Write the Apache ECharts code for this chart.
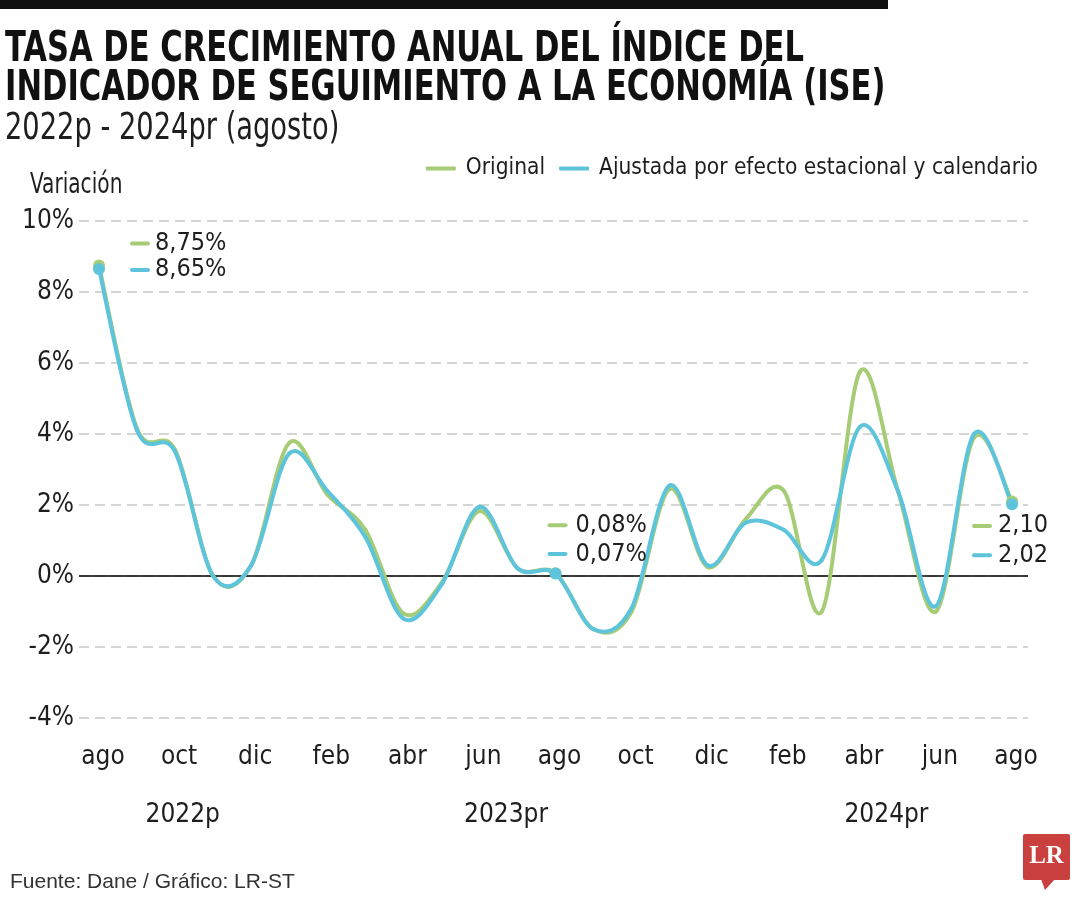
<!DOCTYPE html>
<html><head><meta charset="utf-8">
<script src="https://cdn.jsdelivr.net/npm/echarts@6/dist/echarts.min.js"></script>
<style>html,body{margin:0;padding:0;background:#fff}#c{width:1080px;height:900px}</style>
</head><body><div id="c"></div>
<script>
// ---- data ----
const monthLabels = ['ago','sep','oct','nov','dic','ene','feb','mar','abr','may','jun','jul','ago','sep','oct','nov','dic','ene','feb','mar','abr','may','jun','jul','ago'];
const original = [8.75, 4.15, 3.55, 0.0, 0.3, 3.75, 2.3, 1.3, -1.05, -0.2, 1.83, 0.22, 0.08, -1.5, -1.0, 2.45, 0.25, 1.6, 2.4, -1.0, 5.75, 2.4, -1.0, 3.9, 2.10];
const adjusted = [8.65, 4.1, 3.5, 0.0, 0.3, 3.45, 2.4, 1.1, -1.2, -0.25, 1.95, 0.22, 0.07, -1.5, -0.9, 2.55, 0.3, 1.5, 1.3, 0.45, 4.2, 2.4, -0.85, 4.0, 2.02];
const monthTicks = [0,2,4,6,8,10,12,14,16,18,20,22,24];
const yearLabels = ['2022p','2023pr','2024pr'];
const yearTicks = [2.2, 10.7, 20.7];
const annoIdx = [0, 12, 24];
const annoOrig = ['8,75%','0,08%','2,10'];
const annoAdj = ['8,65%','0,07%','2,02'];
const seriesNames = ['Original','Ajustada por efecto estacional y calendario'];
const titleLines = ['TASA DE CRECIMIENTO ANUAL DEL ÍNDICE DEL','INDICADOR DE SEGUIMIENTO A LA ECONOMÍA (ISE)'];
const subtitle = '2022p - 2024pr (agosto)';
const yName = 'Variación';
const source = 'Fuente: Dane / Gráfico: LR-ST';

// ---- style ----
const F = "'Liberation Sans Narrow','Arial Narrow','DejaVu Sans Condensed',sans-serif";
const GREEN = '#a6cc76', BLUE = '#5ec4db', TXT = '#1e1e1e';
const XMIN = -0.526, XMAX = 24.42;
const layOrig = [{d:25, dy:-22, g:5}, {d:-14, dy:-48, g:8}, {d:-46, dy:24.5, g:6}];
const layAdj  = [{d:25, dy:1, g:5},   {d:-14, dy:-19.5, g:8}, {d:-46, dy:51, g:6}];

function markers(vals, texts, lay, color){
  return vals.map((v,i)=>{
    const k = annoIdx.indexOf(i);
    if (k < 0) return {value:[i,v], symbolSize:0};
    const L = lay[k];
    return {value:[i,v], symbolSize:12,
      label:{show:true, position:'right', distance:L.d, offset:[0,L.dy],
        formatter:'{d|}{t|'+texts[k]+'}',
        rich:{d:{width:20,height:4,backgroundColor:color,borderRadius:2,verticalAlign:'middle'},
              t:{fontSize:25,fontFamily:F,color:TXT,padding:[0,0,0,L.g],verticalAlign:'middle'}}}};
  });
}

// smooth curve (Catmull-Rom) through the data points, positioned by the axes
function curve(name, vals, color, z){
  return {name, type:'custom', z, silent:true, color, itemStyle:{color},
    data: vals.map((v,i)=>[i,v]), encode:{x:0, y:1},
    renderItem(params, api){
      if (params.dataIndex !== 0) return null;
      const p = vals.map((v,i)=>api.coord([i,v]));
      const n = p.length, kids = [];
      for (let i=0;i<n-1;i++){
        const a = p[Math.max(i-1,0)], b = p[i], c = p[i+1], d = p[Math.min(i+2,n-1)];
        kids.push({type:'bezierCurve', shape:{x1:b[0],y1:b[1],x2:c[0],y2:c[1],
          cpx1:b[0]+(c[0]-a[0])/6, cpy1:b[1]+(c[1]-a[1])/6,
          cpx2:c[0]-(d[0]-b[0])/6, cpy2:c[1]-(d[1]-b[1])/6},
          style:{stroke:color, lineWidth:4, fill:null, lineCap:'round'}});
      }
      return {type:'group', children:kids};
    }};
}

const chart = echarts.init(document.getElementById('c'), null, {renderer:'canvas'});
chart.setOption({
  backgroundColor:'#fff',
  animation:false,
  title:[
    {text:source, left:10, top:872, padding:0,
      textStyle:{fontFamily:"'Liberation Sans',sans-serif", fontSize:21, fontWeight:'normal', color:'#333'}}
  ],
  legend:{data:seriesNames, right:42, top:157, padding:0, icon:'roundRect', itemWidth:30, itemHeight:4, itemGap:14,
    textStyle:{fontFamily:F, fontSize:22.5, color:TXT, padding:[0,0,0,5]}},
  grid:{left:79, right:52, top:221, bottom:182, containLabel:false},
  xAxis:[
    {type:'value', min:XMIN, max:XMAX, axisLine:{show:false}, axisTick:{show:false}, splitLine:{show:false},
      axisLabel:{customValues:monthTicks, formatter:v=>monthLabels[Math.round(v)], margin:26, fontFamily:F, fontSize:26, color:TXT, padding:[0,0,0,8]}},
    {type:'value', min:XMIN, max:XMAX, position:'bottom', offset:58, axisLine:{show:false}, axisTick:{show:false}, splitLine:{show:false},
      axisLabel:{customValues:yearTicks, formatter:v=>yearLabels[yearTicks.indexOf(v)], margin:26, fontFamily:F, fontSize:26, color:TXT}}
  ],
  yAxis:{type:'value', min:-4, max:10, interval:2, axisLine:{show:false}, axisTick:{show:false},
    axisLabel:{formatter:'{value}%', margin:5, fontFamily:F, fontSize:26, color:TXT},
    splitLine:{show:true, lineStyle:{type:[10,6], color:'#c8c8c8', width:1.5}}},
  series:[
    {name:'zero', type:'line', data:[[XMIN,0],[XMAX,0]], symbol:'none', silent:true, z:1,
      lineStyle:{color:'#000', width:1.5}},
    curve(seriesNames[0], original, GREEN, 3),
    curve(seriesNames[1], adjusted, BLUE, 4),
    {name:seriesNames[0], type:'line', color:GREEN, symbol:'circle', showSymbol:true, z:5,
      itemStyle:{color:GREEN}, lineStyle:{width:0, opacity:0}, data:markers(original, annoOrig, layOrig, GREEN)},
    {name:seriesNames[1], type:'line', color:BLUE, symbol:'circle', showSymbol:true, z:6,
      itemStyle:{color:BLUE}, lineStyle:{width:0, opacity:0}, data:markers(adjusted, annoAdj, layAdj, BLUE)}
  ],
  graphic:[
    {type:'rect', x:0, y:0, shape:{width:888, height:9}, style:{fill:'#111'}},
    {type:'text', x:5, y:50, scaleX:0.81, originX:0, style:{text:titleLines[0], font:"bold 42px "+F, fill:'#111', verticalAlign:'middle'}},
    {type:'text', x:5, y:89.5, scaleX:0.81, originX:0, style:{text:titleLines[1], font:"bold 42px "+F, fill:'#111', verticalAlign:'middle'}},
    {type:'text', x:5, y:129.5, scaleX:0.82, originX:0, style:{text:subtitle, font:"normal 37px "+F, fill:TXT, verticalAlign:'middle'}},
    {type:'text', x:30, y:186, scaleX:0.8, originX:0, style:{text:yName, font:"normal 28px "+F, fill:TXT, verticalAlign:'middle'}},
    {type:'group', x:1023, y:834, children:[
      {type:'rect', shape:{x:0, y:0, width:47, height:46, r:2}, style:{fill:'#c9403e'}},
      {type:'polygon', shape:{points:[[18,45],[32,45],[22,56]]}, style:{fill:'#c9403e'}},
      {type:'text', x:23.5, y:23, style:{text:'LR', fill:'#fff', font:"bold 25px 'Liberation Serif','DejaVu Serif',serif", align:'center', verticalAlign:'middle'}}
    ]}
  ]
});
</script></body></html>
